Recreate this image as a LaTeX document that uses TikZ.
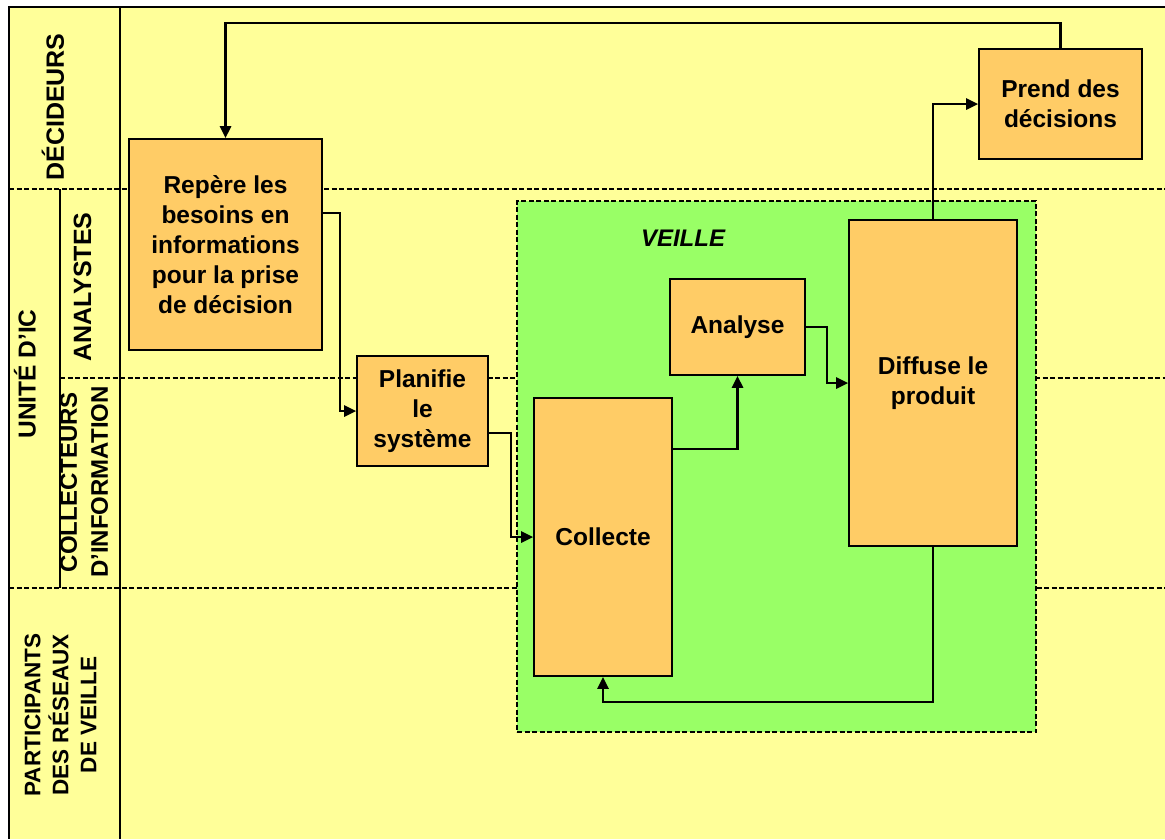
\documentclass[tikz,border=0pt]{standalone}
\usepackage{fontspec}
\setmainfont{Liberation Sans}
\usepackage{xcolor}
\definecolor{laneYellow}{HTML}{FFFF99}
\definecolor{taskOrange}{HTML}{FFCC66}
\definecolor{veilleGreen}{HTML}{99FF66}
\definecolor{darkLine}{HTML}{000000}
\usetikzlibrary{
    arrows.meta,
    positioning,
    calc
}
\tikzset{
    % Base style for all activity boxes
    task base/.style={
        font=\fontsize{24.5}{30}\selectfont\bfseries,
        align=center,
        text=black,
        inner sep=0pt,
    },
    % Activity boxes - plain orange rectangle
    task/.style={
        task base,
        rectangle,
        draw=darkLine,
        line width=1.6pt,
        fill=taskOrange,
    },
    % Swimlane titles - rotated bold capitals
    lane title/.style={
        font=\fontsize{25}{31}\selectfont\bfseries,
        align=center,
        rotate=90,
        inner sep=0pt,
    },
    % Swimlane separators
    lane line/.style={
        draw=darkLine,
        line width=2pt,
        dash pattern=on 5pt off 2.5pt,
    },
    % Frame lines
    frame line/.style={
        draw=darkLine,
        line width=1.8pt,
    },
    % Elbow arrows between activities
    arrow/.style={
        -{Triangle[length=12pt, width=11pt]},
        line width=2.6pt,
        draw=darkLine,
    },
}

\begin{document}
\begin{tikzpicture}[x=1pt, y=-1pt]
    \useasboundingbox [fill=white] (0,0) rectangle (1165,839);

    % swimlanes
    \fill [laneYellow] (9,7) rectangle (1165,839);
    \draw [lane line] (9,189) -- (1165,189);
    \draw [lane line] (60,378) -- (1165,378);
    \draw [lane line] (9,588) -- (1165,588);
    \draw [frame line] (1165,7) -- (9,7) -- (9,839);
    \draw [frame line] (120,7) -- (120,839);
    \draw [frame line] (60,189) -- (60,588);

    \node (decideurs) [lane title] at (53,107) {DÉCIDEURS};
    \node (unite) [lane title, font=\fontsize{24.5}{31}\selectfont\bfseries] at (25,374) {UNITÉ D'IC};
    \node (analystes) [lane title] at (82.5,287) {ANALYSTES};
    \node (collecteurs) [lane title, font=\fontsize{24}{31}\selectfont\bfseries] at (84,482) {COLLECTEURS\\D'INFORMATION};
    \node (participants) [lane title, font=\fontsize{22.5}{28}\selectfont\bfseries] at (60.5,715) {PARTICIPANTS\\DES RÉSEAUX\\DE VEILLE};

    % veille zone
    \node (veille) [draw=darkLine, line width=2pt, dash pattern=on 5pt off 2.5pt, fill=veilleGreen,
        minimum width=519pt, minimum height=531pt, inner sep=0pt] at (776.5,466.5) {};
    \node (veilleTitle) [font=\fontsize{24}{30}\selectfont\bfseries\itshape] at (683,238) {VEILLE};

    \node (repere) [task, minimum width=193pt, minimum height=211pt] at (225.5,244.5) {Repère les\\besoins en\\informations\\pour la prise\\de décision};
    \node (planifie) [task, minimum width=131pt, minimum height=110pt] at (422.5,411) {Planifie\\le\\système};
    \node (collecte) [task, minimum width=138pt, minimum height=278pt] at (603,537) {Collecte};
    \node (analyse) [task, minimum width=135pt, minimum height=96pt] at (737.5,327) {Analyse};
    \node (diffuse) [task, minimum width=168pt, minimum height=326pt] at (933,383) {Diffuse le\\produit};
    \node (prend) [task, minimum width=163pt, minimum height=110pt] at (1060.5,104) {Prend des\\décisions};

    \coordinate (topRoute) at (600,23);
    \coordinate (repereOut) at (340,213);
    \coordinate (planifieOut) at (511,433);
    \coordinate (collecteOut) at (738,449);
    \coordinate (analyseOut) at (827,327);
    \coordinate (loopBottom) at (760,702);

    \draw [arrow] (prend.north) |- (topRoute) -| (repere.north);
    \draw [arrow] (repere.east |- repereOut) -- (repereOut) |- (planifie.west);
    \draw [arrow] (planifie.east |- planifieOut) -- (planifieOut) |- (collecte.west);
    \draw [arrow] (collecte.east |- collecteOut) -| (analyse.south);
    \draw [arrow] (analyse.east) -- (analyseOut) |- (diffuse.west);
    \draw [arrow] (diffuse.south) |- (loopBottom) -| (collecte.south);
    \draw [arrow] (diffuse.north) |- (prend.west);
\end{tikzpicture}
\end{document}
